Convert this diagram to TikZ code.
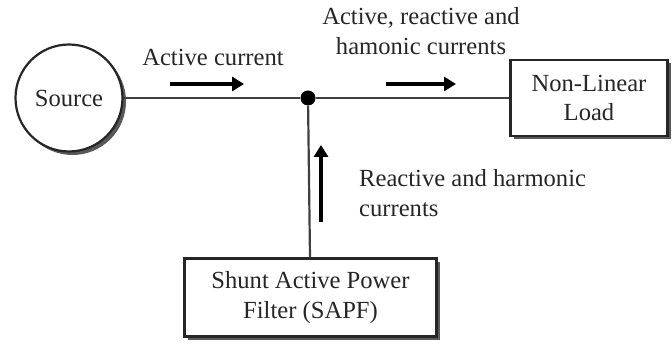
\documentclass[tikz,border=0pt]{standalone}
\usepackage{fontspec}
\setmainfont{Liberation Serif}
\usetikzlibrary{shadows,arrows.meta}
\begin{document}
\begin{tikzpicture}[x=1pt,y=-1pt,
  lbl/.style={font=\fontsize{24.6}{29.5}\selectfont, text=black!85, inner sep=0pt},
  blk/.style={draw=black!85, line width=2.2pt, fill=white,
    drop shadow={shadow xshift=3.5pt, shadow yshift=-3.5pt, fill=black!65, opacity=1}},
  wire/.style={draw=black!75, line width=2.2pt},
  flow/.style={line width=3.8pt, -{Triangle[length=12pt,width=14pt]}}]
\useasboundingbox (0,0) rectangle (672,344);
\node[blk, circle, minimum size=107pt, lbl] (src) at (69,98) {Source};
\node[blk, rectangle, minimum width=157pt, minimum height=76pt, lbl, align=center] (load) at (589,98) {Non-Linear\\Load};
\node[blk, rectangle, minimum width=252pt, minimum height=78pt, lbl, align=center] (sapf) at (310.5,297.5) {Shunt Active Power\\Filter (SAPF)};
\node[circle, fill=black, inner sep=0pt, minimum size=15pt] (pcc) at (308,98) {};
\draw[wire] (src) -- (pcc) -- (load);
\draw[wire] (pcc) -- (sapf);
\coordinate (a1s) at (170,84); \coordinate (a1e) at (244,84);
\coordinate (a2s) at (386,84); \coordinate (a2e) at (456,84);
\coordinate (a3s) at (321,222); \coordinate (a3e) at (321,145);
\draw[flow] (a1s) -- (a1e);
\draw[flow] (a2s) -- (a2e);
\draw[flow] (a3s) -- (a3e);
\node[lbl] (t1) at (213,57) {Active current};
\node[lbl, align=center] (t2) at (421,31) {Active, reactive and\\hamonic currents};
\node[lbl, align=left, anchor=west] (t3) at (359,193) {Reactive and harmonic\\currents};
\end{tikzpicture}
\end{document}
